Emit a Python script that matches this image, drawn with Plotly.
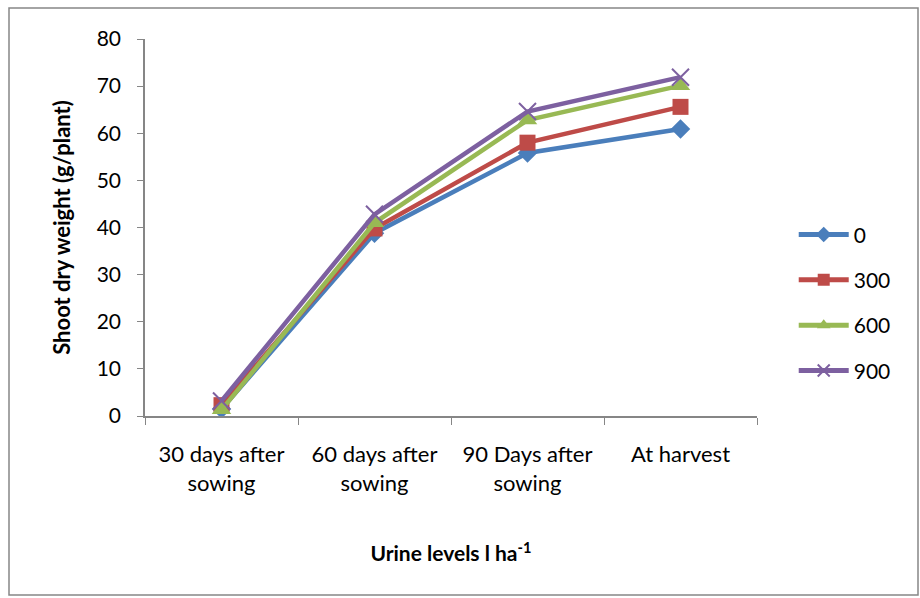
import plotly.graph_objects as go

categories = ["30 days after<br>sowing", "60 days after<br>sowing", "90 Days after<br>sowing", "At harvest"]
series_names = ["0", "300", "600", "900"]
v0 = [1.5, 38.8, 55.8, 60.9]
v300 = [2.3, 39.8, 58.0, 65.6]
v600 = [1.3, 41.0, 62.8, 70.1]
v900 = [3.2, 42.8, 64.6, 71.9]
y_ticks = [0, 10, 20, 30, 40, 50, 60, 70, 80]

colors = ["#4A7EBB", "#BE4B48", "#98B954", "#7D60A0"]
symbols = ["diamond", "square", "triangle-up", "x-thin-open"]
sizes = [15, 16, 17, 17]

FONT = "Lato, 'Open Sans', sans-serif"
fig = go.Figure()
for name, vals, c, s, sz in zip(series_names, [v0, v300, v600, v900], colors, symbols, sizes):
    marker = dict(symbol=s, size=sz, color=c)
    if s == "x-thin-open":
        marker["line"] = dict(color=c, width=2)
    fig.add_trace(go.Scatter(
        x=categories, y=vals, name=name, mode="lines+markers",
        line=dict(color=c, width=4.5), marker=marker, legendgroup=name,
    ))

fig.update_layout(
    width=920, height=598,
    margin=dict(l=145, r=163, t=39, b=182),
    paper_bgcolor="white", plot_bgcolor="white",
    font=dict(family=FONT, size=22, color="black"),
    showlegend=True,
    legend=dict(x=1.06, y=0.30, xanchor="left", yanchor="middle",
                font=dict(size=21), tracegroupgap=15, itemwidth=50,
                itemsizing="constant"),
    xaxis=dict(
        type="category", showline=True, linecolor="#868686", linewidth=1.5,
        ticks="outside", tickson="boundaries", ticklen=7, tickcolor="#868686",
        showgrid=False, range=[-0.5, 3.5], tickfont=dict(size=22),
        ticklabelstandoff=18,
        title=dict(text="<b>Urine levels l ha<sup>-1</sup></b>", font=dict(size=21), standoff=52),
    ),
    yaxis=dict(
        range=[0, 80], tickvals=y_ticks, showline=True, linecolor="#868686", linewidth=1.5,
        ticks="outside", ticklen=6, tickcolor="#868686", showgrid=False, zeroline=False,
        tickfont=dict(size=21), ticklabelstandoff=12,
        title=dict(text="<b>Shoot dry weight (g/plant)</b>", font=dict(size=22), standoff=20),
    ),
    shapes=[dict(type="rect", xref="paper", yref="paper",
                 x0=-136/612, x1=(918-145)/612, y0=-(595-416)/377, y1=(416-8)/377,
                 line=dict(color="#868686", width=1.5), fillcolor="rgba(0,0,0,0)")],
)

fig.write_html("out.html")
